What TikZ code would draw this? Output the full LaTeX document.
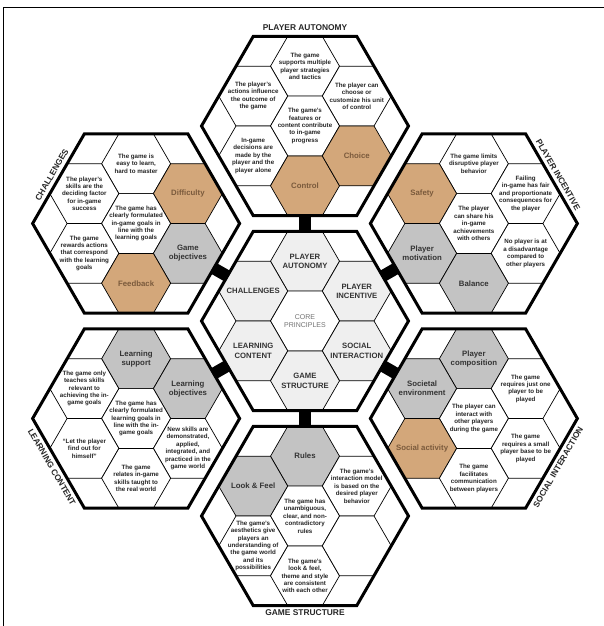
\documentclass[tikz,border=0pt]{standalone}
\usepackage{fontspec}
\setmainfont{Liberation Sans}
\usetikzlibrary{shapes.geometric,calc}
\definecolor{tanfill}{HTML}{D3A77A}
\definecolor{tantext}{HTML}{7A5A3C}
\definecolor{grayfill}{HTML}{C3C3C3}
\definecolor{corefill}{HTML}{EFEFEF}

\begin{document}
\begin{tikzpicture}[x=1pt,y=1pt,
 big/.style={regular polygon,regular polygon sides=6,minimum size=207pt,inner sep=0pt,outer sep=0pt},
 cell/.style={regular polygon,regular polygon sides=6,minimum size=69pt,inner sep=0pt,outer sep=0pt,draw,line width=0.7pt},
 wc/.style={cell,fill=white,label={[align=center,font=\fontsize{6.2}{7.4}\selectfont\bfseries,text=black!85]center:{#1}}},
 tc/.style={cell,fill=tanfill,label={[align=center,font=\fontsize{7.8}{9.2}\selectfont\bfseries,text=tantext]center:{#1}}},
 gc/.style={cell,fill=grayfill,label={[align=center,font=\fontsize{7.8}{9.2}\selectfont\bfseries,text=black!80]center:{#1}}},
 pc/.style={cell,fill=corefill,label={[align=center,font=\fontsize{7.7}{9.2}\selectfont\bfseries,text=black!80]center:{#1}}},
 cc/.style={cell,fill=white,label={[align=center,font=\fontsize{7}{8.6}\selectfont,text=black!55]center:{#1}}},
 rim/.style={line width=3pt,line join=miter},
 bar/.style={line width=12pt},
 side/.style={font=\fontsize{8.4}{10}\selectfont\bfseries,text=black!85,inner sep=4.5pt}]
\useasboundingbox (-305,-305) rectangle (299,321);
\draw[line width=1pt] (-301,-305) -- (-301,313) -- (299,313);

\node[big] (ctr) at (0,0) {};
\node[big] (aut) at (90:195) {};
\node[big] (inc) at (30:195) {};
\node[big] (soc) at (330:195) {};
\node[big] (str) at (270:195) {};
\node[big] (lea) at (210:195) {};
\node[big] (cha) at (150:195) {};

% player autonomy
\node[wc={The game\\supports multiple\\player strategies\\and tactics}] (aut-n) at ($(aut)+(90:59.8)$) {};
\node[wc={The player's\\actions influence\\the outcome of\\the game}] (aut-nw) at ($(aut)+(150:59.8)$) {};
\node[wc={The player can\\choose or\\customize his unit\\of control}] (aut-ne) at ($(aut)+(30:59.8)$) {};
\node[wc={The game's\\features or\\content contribute\\to in-game\\progress}] (aut-c) at (aut) {};
\node[wc={In-game\\decisions are\\made by the\\player and the\\player alone}] (aut-sw) at ($(aut)+(210:59.8)$) {};
\node[tc={Control}] (aut-s) at ($(aut)+(270:59.8)$) {};
\node[tc={Choice}] (aut-se) at ($(aut)+(330:59.8)$) {};

% challenges
\node[wc={The game is\\easy to learn,\\hard to master}] (cha-n) at ($(cha)+(90:59.8)$) {};
\node[wc={The player's\\skills are the\\deciding factor\\for in-game\\success}] (cha-nw) at ($(cha)+(150:59.8)$) {};
\node[tc={Difficulty}] (cha-ne) at ($(cha)+(30:59.8)$) {};
\node[wc={The game has\\clearly formulated\\in-game goals in\\line with the\\learning goals}] (cha-c) at (cha) {};
\node[wc={The game\\rewards actions\\that correspond\\with the learning\\goals}] (cha-sw) at ($(cha)+(210:59.8)$) {};
\node[gc={Game\\objectives}] (cha-se) at ($(cha)+(330:59.8)$) {};
\node[tc={Feedback}] (cha-s) at ($(cha)+(270:59.8)$) {};

% player incentive
\node[wc={The game limits\\disruptive player\\behavior}] (inc-n) at ($(inc)+(90:59.8)$) {};
\node[tc={Safety}] (inc-nw) at ($(inc)+(150:59.8)$) {};
\node[wc={Failing\\in-game has fair\\and proportionate\\consequences for\\the player}] (inc-ne) at ($(inc)+(30:59.8)$) {};
\node[wc={The player\\can share his\\in-game\\achievements\\with others}] (inc-c) at (inc) {};
\node[gc={Player\\motivation}] (inc-sw) at ($(inc)+(210:59.8)$) {};
\node[wc={No player is at\\a disadvantage\\compared to\\other players}] (inc-se) at ($(inc)+(330:59.8)$) {};
\node[gc={Balance}] (inc-s) at ($(inc)+(270:59.8)$) {};

% core principles
\node[pc={PLAYER\\AUTONOMY}] (ctr-n) at ($(ctr)+(90:59.8)$) {};
\node[pc={CHALLENGES}] (ctr-nw) at ($(ctr)+(150:59.8)$) {};
\node[pc={PLAYER\\INCENTIVE}] (ctr-ne) at ($(ctr)+(30:59.8)$) {};
\node[cc={CORE\\PRINCIPLES}] (ctr-c) at (ctr) {};
\node[pc={LEARNING\\CONTENT}] (ctr-sw) at ($(ctr)+(210:59.8)$) {};
\node[pc={SOCIAL\\INTERACTION}] (ctr-se) at ($(ctr)+(330:59.8)$) {};
\node[pc={GAME\\STRUCTURE}] (ctr-s) at ($(ctr)+(270:59.8)$) {};

% learning content
\node[gc={Learning\\support}] (lea-n) at ($(lea)+(90:59.8)$) {};
\node[gc={Learning\\objectives}] (lea-ne) at ($(lea)+(30:59.8)$) {};
\node[wc={The game only\\teaches skills\\relevant to\\achieving the in-\\game goals}] (lea-nw) at ($(lea)+(150:59.8)$) {};
\node[wc={The game has\\clearly formulated\\learning goals in\\line with the in-\\game goals}] (lea-c) at (lea) {};
\node[wc={“Let the player\\find out for\\himself”}] (lea-sw) at ($(lea)+(210:59.8)$) {};
\node[wc={New skills are\\demonstrated,\\applied,\\integrated, and\\practiced in the\\game world}] (lea-se) at ($(lea)+(330:59.8)$) {};
\node[wc={The game\\relates in-game\\skills taught to\\the real world}] (lea-s) at ($(lea)+(270:59.8)$) {};

% social interaction
\node[gc={Player\\composition}] (soc-n) at ($(soc)+(90:59.8)$) {};
\node[gc={Societal\\environment}] (soc-nw) at ($(soc)+(150:59.8)$) {};
\node[wc={The game\\requires just one\\player to be\\played}] (soc-ne) at ($(soc)+(30:59.8)$) {};
\node[wc={The player can\\interact with\\other players\\during the game}] (soc-c) at (soc) {};
\node[tc={Social activity}] (soc-sw) at ($(soc)+(210:59.8)$) {};
\node[wc={The game\\requires a small\\player base to be\\played}] (soc-se) at ($(soc)+(330:59.8)$) {};
\node[wc={The game\\facilitates\\communication\\between players}] (soc-s) at ($(soc)+(270:59.8)$) {};

% game structure
\node[gc={Rules}] (str-n) at ($(str)+(90:59.8)$) {};
\node[gc={Look \& Feel}] (str-nw) at ($(str)+(150:59.8)$) {};
\node[wc={The game's\\interaction model\\is based on the\\desired player\\behavior}] (str-ne) at ($(str)+(30:59.8)$) {};
\node[wc={The game has\\unambiguous,\\clear, and non-\\contradictory\\rules}] (str-c) at (str) {};
\node[wc={The game's\\aesthetics give\\players an\\understanding of\\the game world\\and its\\possibilities}] (str-sw) at ($(str)+(210:59.8)$) {};
\node[wc={The game's\\look \& feel,\\theme and style\\are consistent\\with each other}] (str-s) at ($(str)+(270:59.8)$) {};
\node[wc={}] (str-se) at ($(str)+(330:59.8)$) {};

\foreach \n/\a/\b in {aut/90/270,inc/30/210,soc/330/150,str/270/90,lea/210/30,cha/150/330}
  \draw[bar] (ctr.\a) -- (\n.\b);
\foreach \n in {ctr,aut,inc,soc,str,lea,cha}
  \draw[rim] (\n.corner 1)--(\n.corner 2)--(\n.corner 3)--(\n.corner 4)--(\n.corner 5)--(\n.corner 6)--cycle;

\node[side,anchor=south,inner sep=5.5pt] (t-aut) at (aut.90) {PLAYER AUTONOMY};
\node[side,anchor=north,inner sep=4pt] (t-str) at (str.270) {GAME STRUCTURE};
\node[side,rotate=60,anchor=south] (t-cha) at (cha.150) {CHALLENGES};
\node[side,rotate=-60,anchor=south] (t-inc) at (inc.30) {PLAYER INCENTIVE};
\node[side,rotate=-60,anchor=north] (t-lea) at (lea.210) {LEARNING CONTENT};
\node[side,rotate=60,anchor=north] (t-soc) at (soc.330) {SOCIAL INTERACTION};
\end{tikzpicture}
\end{document}
